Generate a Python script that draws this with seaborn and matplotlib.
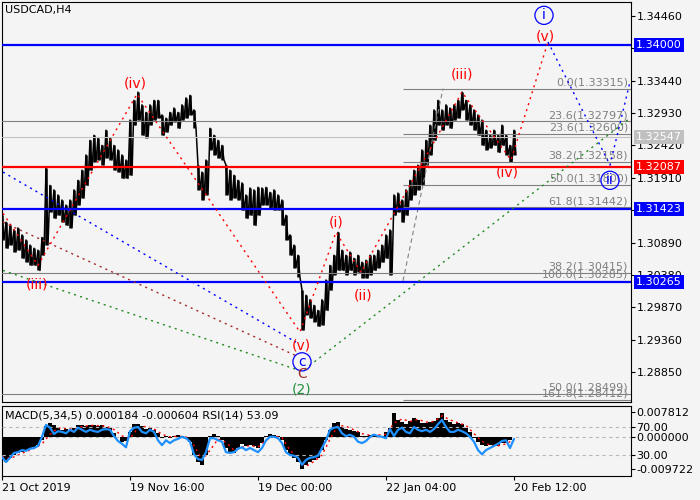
import numpy as np
import matplotlib
matplotlib.use('Agg')
import matplotlib.pyplot as plt
import seaborn as sns
from matplotlib.transforms import blended_transform_factory

# ---------------- data ----------------
symbol_title = "USDCAD,H4"
indicator_title = "MACD(5,34,5) 0.000184 -0.000604 RSI(14) 53.09"

bar_step = 4  # one sample every 4 H4 bars
price_high = [
    1.3132, 1.3121, 1.3116, 1.3109, 1.3112, 1.3101, 1.3093, 1.3085, 1.3080, 1.3077,
    1.3097, 1.3206, 1.3179, 1.3172, 1.3164, 1.3156, 1.3148, 1.3156, 1.3172, 1.3187,
    1.3203, 1.3227, 1.3250, 1.3258, 1.3254, 1.3242, 1.3266, 1.3254, 1.3242, 1.3235,
    1.3227, 1.3219, 1.3282, 1.3313, 1.3326, 1.3306, 1.3294, 1.3306, 1.3313, 1.3313,
    1.3290, 1.3285, 1.3294, 1.3301, 1.3294, 1.3306, 1.3317, 1.3321, 1.3298, 1.3211,
    1.3200, 1.3219, 1.3269, 1.3258, 1.3250, 1.3242, 1.3211, 1.3203, 1.3195, 1.3187,
    1.3183, 1.3164, 1.3175, 1.3172, 1.3176, 1.3175, 1.3176, 1.3168, 1.3172, 1.3164,
    1.3156, 1.3132, 1.3101, 1.3085, 1.3069, 1.3014, 1.3006, 1.2999, 1.2990, 1.2982,
    1.2999, 1.3030, 1.3053, 1.3069, 1.3105, 1.3077, 1.3069, 1.3074, 1.3064, 1.3069,
    1.3058, 1.3061, 1.3069, 1.3069, 1.3077, 1.3085, 1.3101, 1.3109, 1.3164, 1.3167,
    1.3156, 1.3172, 1.3187, 1.3203, 1.3211, 1.3235, 1.3250, 1.3274, 1.3298, 1.3313,
    1.3298, 1.3306, 1.3301, 1.3306, 1.3313, 1.3326, 1.3313, 1.3306, 1.3298, 1.3290,
    1.3282, 1.3266, 1.3258, 1.3266, 1.3258, 1.3274, 1.3258, 1.3242, 1.3266]
price_low = [
    1.3093, 1.3080, 1.3085, 1.3074, 1.3077, 1.3064, 1.3058, 1.3053, 1.3053, 1.3045,
    1.3069, 1.3085, 1.3137, 1.3127, 1.3132, 1.3121, 1.3116, 1.3112, 1.3132, 1.3148,
    1.3159, 1.3179, 1.3203, 1.3216, 1.3219, 1.3211, 1.3222, 1.3219, 1.3203, 1.3200,
    1.3190, 1.3190, 1.3195, 1.3274, 1.3282, 1.3258, 1.3254, 1.3274, 1.3282, 1.3285,
    1.3258, 1.3263, 1.3274, 1.3279, 1.3269, 1.3282, 1.3285, 1.3290, 1.3269, 1.3172,
    1.3156, 1.3164, 1.3235, 1.3227, 1.3222, 1.3219, 1.3164, 1.3156, 1.3159, 1.3156,
    1.3140, 1.3127, 1.3132, 1.3116, 1.3132, 1.3148, 1.3148, 1.3143, 1.3140, 1.3140,
    1.3116, 1.3093, 1.3069, 1.3049, 1.3034, 1.2951, 1.2975, 1.2970, 1.2964, 1.2957,
    1.2959, 1.2982, 1.3014, 1.3038, 1.3045, 1.3045, 1.3038, 1.3045, 1.3038, 1.3042,
    1.3033, 1.3033, 1.3038, 1.3045, 1.3049, 1.3058, 1.3064, 1.3038, 1.3132, 1.3137,
    1.3121, 1.3132, 1.3156, 1.3164, 1.3172, 1.3179, 1.3211, 1.3227, 1.3250, 1.3274,
    1.3266, 1.3274, 1.3269, 1.3282, 1.3285, 1.3298, 1.3282, 1.3274, 1.3266, 1.3258,
    1.3242, 1.3235, 1.3238, 1.3242, 1.3231, 1.3242, 1.3227, 1.3216, 1.3227]
macd_hist = [
    -0.0064, -0.0077, -0.0064, -0.0055, -0.0048, -0.0045, -0.0039, -0.0036, -0.0030, -0.0023,
    -0.0008, 0.0036, 0.0045, 0.0039, 0.0030, 0.0023, 0.0027, 0.0020, 0.0030, 0.0039,
    0.0039, 0.0036, 0.0039, 0.0039, 0.0036, 0.0039, 0.0033, 0.0030, 0.0014, 0.0002,
    -0.0014, -0.0011, 0.0017, 0.0042, 0.0042, 0.0036, 0.0027, 0.0030, 0.0023, 0.0014,
    -0.0002, 0.0005, -0.0002, 0.0005, 0.0008, 0.0005, -0.0002, -0.0014, -0.0055, -0.0077,
    -0.0086, -0.0055, 0.0005, 0.0011, 0.0005, -0.0008, -0.0033, -0.0045, -0.0048, -0.0033,
    -0.0020, -0.0027, -0.0023, -0.0027, -0.0033, -0.0017, 0.0005, 0.0011, 0.0008, 0.0005,
    -0.0008, -0.0039, -0.0055, -0.0064, -0.0077, -0.0097, -0.0086, -0.0077, -0.0070, -0.0064,
    -0.0039, -0.0008, 0.0023, 0.0045, 0.0048, 0.0033, 0.0027, 0.0023, 0.0020, 0.0017,
    0.0005, 0.0005, 0.0008, 0.0011, 0.0005, 0.0005, 0.0017, 0.0030, 0.0077, 0.0055,
    0.0048, 0.0042, 0.0052, 0.0061, 0.0055, 0.0045, 0.0045, 0.0048, 0.0052, 0.0061,
    0.0078, 0.0055, 0.0048, 0.0042, 0.0045, 0.0042, 0.0030, 0.0017, -0.0002, -0.0014,
    -0.0023, -0.0027, -0.0023, -0.0027, -0.0027, -0.0017, -0.0017, -0.0008, 0.0002]
signal_step = 8
macd_signal = [
    -0.0060, -0.0066, -0.0055, -0.0044, -0.0034, -0.0020, 0.0010, 0.0030, 0.0028, 0.0026,
    0.0034, 0.0038, 0.0037, 0.0036, 0.0025, 0.0005, -0.0003, 0.0030, 0.0035, 0.0027,
    0.0010, 0.0002, 0.0004, 0.0002, -0.0025, -0.0070, -0.0040, -0.0005, -0.0015, -0.0040,
    -0.0030, -0.0025, -0.0030, -0.0008, 0.0005, 0.0000, -0.0040, -0.0065, -0.0090, -0.0075,
    -0.0055, -0.0005, 0.0038, 0.0035, 0.0024, 0.0012, 0.0007, 0.0008, 0.0010, 0.0045,
    0.0058, 0.0050, 0.0057, 0.0048, 0.0050, 0.0068, 0.0055, 0.0046, 0.0038, 0.0012,
    -0.0012, -0.0024, -0.0026, -0.0020, -0.0006]
rsi_values = [
    27, 20, 26, 33, 34, 37, 36, 39, 40, 43,
    56, 73, 69, 60, 64, 63, 61, 66, 63, 69,
    66, 63, 66, 64, 63, 66, 67, 66, 57, 50,
    46, 41, 64, 69, 70, 63, 61, 66, 63, 51,
    44, 51, 47, 51, 53, 56, 54, 49, 31, 24,
    23, 34, 54, 54, 51, 49, 34, 33, 34, 39,
    41, 37, 40, 37, 34, 40, 51, 56, 56, 54,
    47, 34, 30, 29, 26, 16, 23, 26, 27, 29,
    40, 51, 66, 69, 70, 61, 57, 59, 56, 49,
    47, 50, 56, 59, 57, 56, 54, 67, 57, 66,
    69, 63, 61, 70, 66, 64, 66, 63, 67, 74,
    80, 70, 63, 63, 66, 64, 61, 56, 49, 37,
    31, 37, 40, 43, 46, 50, 51, 40, 53]

date_labels = ['21 Oct 2019', '19 Nov 16:00', '19 Dec 00:00', '22 Jan 04:00', '20 Feb 12:00']
date_bars = [0, 128, 256, 384, 512]
total_bars = 629

price_ticks = [1.34460, 1.33950, 1.33440, 1.32930, 1.32420, 1.31910,
               1.31400, 1.30890, 1.30380, 1.29870, 1.29360, 1.28850]
price_range = (1.28377, 1.34680)

blue_levels = [1.34000, 1.31423, 1.30265]
red_level = 1.32087
bid_price = 1.32547

fib_full_pcts = ['23.6', '38.2', '50.0']
fib_full_levels = [1.32797, 1.30415, 1.28499]
fib_part_pcts = ['0.0', '23.6', '38.2', '50.0', '61.8', '100.0', '161.8']
fib_part_levels = [1.33315, 1.32600, 1.32158, 1.31800, 1.31442, 1.30285, 1.28412]
fib_start_bar = 401
fib_trend_bars = [401, 441]
fib_trend_prices = [1.30285, 1.33315]

red_wave_bars = [1, 36, 135, 298, 334, 359, 460, 509, 546]
red_wave_prices = [1.3135, 1.3053, 1.3323, 1.2948, 1.3105, 1.3042, 1.3326, 1.3219, 1.3405]
blue_wave1_bars = [1, 294]
blue_wave1_prices = [1.3200, 1.2932]
blue_wave2_bars = [546, 608, 628]
blue_wave2_prices = [1.3405, 1.3211, 1.3342]
brown_wave_bars = [1, 295]
brown_wave_prices = [1.3121, 1.2910]
green_wave_bars = [1, 300, 628]
green_wave_prices = [1.3045, 1.2886, 1.3285]

wave_texts = ['(iii)', '(iv)', '(v)', '(i)', '(ii)', '(iii)', '(iv)', '(v)']
wave_text_bars = [35, 133, 299, 334, 361, 460, 505, 543]
wave_text_prices = [1.3023, 1.3339, 1.2927, 1.3120, 1.3006, 1.3353, 1.3200, 1.3413]
circle_texts = ['i', 'ii', 'c']
circle_bars = [542, 608, 300]
circle_prices = [1.3447, 1.3187, 1.2901]
major_texts = ['C', '(2)']
major_bars = [300, 300]
major_prices = [1.2882, 1.2858]
major_colors = ['#a52a2a', '#1f8f3a']

macd_ticks = [0.007812, 0.0, -0.009722]
macd_tick_labels = ['0.007812', '0.000000', '-0.009722']
macd_range = (-0.01203, 0.00984)
rsi_ticks = [70, 30]
rsi_tick_labels = ['70.00', '30.00']

# ---------------- style ----------------
sns.set_theme(style='white')
plt.rcParams['font.family'] = ['DejaVu Sans']
BG = '#f4f4f4'
FS = 8

W, H = 700, 500
fig = plt.figure(figsize=(7, 5), dpi=100, facecolor=BG)


def rect(x0, y0, x1, y1):
    return [x0 / W, 1 - y1 / H, (x1 - x0) / W, (y1 - y0) / H]


ax = fig.add_axes(rect(2, 2, 631, 402))
axm = fig.add_axes(rect(2, 406, 631, 476), sharex=ax)
axr = axm.twinx()

for a in (ax, axm):
    a.set_facecolor(BG)
    for s in a.spines.values():
        s.set_color('black')
        s.set_linewidth(0.8)
for s in axr.spines.values():
    s.set_visible(False)

# ---------------- main price panel ----------------
bars = np.arange(len(price_high)) * bar_step
ax.vlines(bars, price_low, price_high, color='black', lw=1.8, zorder=2)
zx = np.column_stack([bars, bars + 2]).ravel()
zy = np.column_stack([price_high, price_low]).ravel()
sns.lineplot(x=zx, y=zy, ax=ax, color='black', lw=1.1, sort=False, estimator=None, zorder=2)

# horizontal levels
for lvl in fib_full_levels:
    ax.axhline(lvl, color='#808080', lw=0.8, zorder=3)
ax.hlines(fib_part_levels, fib_start_bar, total_bars, color='#808080', lw=0.8, zorder=3)
ax.axhline(bid_price, color='#c0c0c0', lw=0.8, zorder=3)
for lvl in blue_levels:
    ax.axhline(lvl, color='#0000ff', lw=1.6, zorder=4)
ax.axhline(red_level, color='#ff0000', lw=1.6, zorder=4)

# fib labels
for pct, lvl in list(zip(fib_full_pcts, fib_full_levels)) + list(zip(fib_part_pcts, fib_part_levels)):
    ax.text(total_bars - 3, lvl + 0.0002, f'{pct}({lvl:.5f})', ha='right', va='bottom',
            color='#808080', fontsize=FS, zorder=5)

# fib trendline
sns.lineplot(x=fib_trend_bars, y=fib_trend_prices, ax=ax, color='#808080', lw=0.8,
             linestyle=(0, (4, 3)), sort=False, estimator=None, zorder=3)

# wave lines
dot = (0, (1.5, 3))
sns.lineplot(x=red_wave_bars, y=red_wave_prices, ax=ax, color='#ff0000', lw=1.0,
             linestyle=dot, sort=False, estimator=None, zorder=5)
sns.lineplot(x=blue_wave1_bars, y=blue_wave1_prices, ax=ax, color='#0000ff', lw=1.0,
             linestyle=dot, sort=False, estimator=None, zorder=5)
sns.lineplot(x=blue_wave2_bars, y=blue_wave2_prices, ax=ax, color='#0000ff', lw=1.0,
             linestyle=dot, sort=False, estimator=None, zorder=5)
sns.lineplot(x=brown_wave_bars, y=brown_wave_prices, ax=ax, color='#a52a2a', lw=1.0,
             linestyle=dot, sort=False, estimator=None, zorder=5)
sns.lineplot(x=green_wave_bars, y=green_wave_prices, ax=ax, color='#228b22', lw=1.0,
             linestyle=dot, sort=False, estimator=None, zorder=5)

# wave labels
for t, b, p in zip(wave_texts, wave_text_bars, wave_text_prices):
    ax.text(b, p, t, color='#ff0000', fontsize=10, ha='center', va='center', zorder=6)
for t, b, p in zip(circle_texts, circle_bars, circle_prices):
    ax.text(b, p, t, color='#0000ff', fontsize=10, ha='center', va='center', zorder=6,
            bbox=dict(boxstyle='circle,pad=0.15', fc='none', ec='#0000ff', lw=0.9))
for t, b, p, c in zip(major_texts, major_bars, major_prices, major_colors):
    ax.text(b, p, t, color=c, fontsize=10, ha='center', va='center', zorder=6)

ax.set_xlim(0, total_bars)
ax.set_ylim(*price_range)
ax.yaxis.tick_right()
ax.set_yticks(price_ticks)
ax.set_yticklabels([f'{t:.5f}' for t in price_ticks])
ax.tick_params(axis='y', right=True, direction='out', length=3, width=0.8, pad=1,
               labelsize=FS, colors='black')
ax.tick_params(axis='x', bottom=False, labelbottom=False)
ax.set_xlabel('')
ax.set_ylabel('')

# price tags on the axis
tr = blended_transform_factory(ax.transAxes, ax.transData)
tags = [(1.34000, '#0000ff', 'white'), (bid_price, '#c0c0c0', 'white'),
        (red_level, '#ff0000', 'white'), (1.31423, '#0000ff', 'white'),
        (1.30265, '#0000ff', 'white')]
for val, fc, tc in tags:
    ax.text(1.0 + 5 / 629, val, f'{val:.5f}', transform=tr, ha='left', va='center',
            color=tc, fontsize=FS, clip_on=False, zorder=10,
            bbox=dict(boxstyle='square,pad=0.18', fc=fc, ec='none'))

fig.text(5 / W, 1 - 5 / H, symbol_title, ha='left', va='top', fontsize=FS, color='black')

# ---------------- MACD / RSI panel ----------------
axm.bar(bars, macd_hist, width=bar_step, color='black', linewidth=0, zorder=2)
sig_bars = np.arange(len(macd_signal)) * signal_step
sns.lineplot(x=sig_bars, y=macd_signal, ax=axm, color='#ff0000', lw=1.0,
             linestyle=(0, (1.5, 2.5)), sort=False, estimator=None, zorder=3)
axm.axhline(0, color='#b8b8b8', lw=0.8, linestyle=(0, (3, 3)), zorder=1)
axm.set_ylim(*macd_range)
axm.yaxis.tick_right()
axm.set_yticks(macd_ticks)
axm.set_yticklabels(macd_tick_labels)
axm.tick_params(axis='y', right=True, left=False, direction='out', length=3, width=0.8,
                pad=1, labelsize=FS, colors='black')
axm.set_xticks(date_bars)
axm.set_xticklabels(date_labels, ha='left')
axm.tick_params(axis='x', bottom=True, direction='out', length=3, width=0.8, pad=2,
                labelsize=FS, colors='black')
axm.set_xlim(0, total_bars)
axm.set_xlabel('')
axm.set_ylabel('')

axr.axhline(70, color='#b8b8b8', lw=0.8, linestyle=(0, (3, 3)), zorder=1)
axr.axhline(30, color='#b8b8b8', lw=0.8, linestyle=(0, (3, 3)), zorder=1)
sns.lineplot(x=bars, y=rsi_values, ax=axr, color='#1e90ff', lw=1.6, sort=False,
             estimator=None, zorder=4)
axr.set_ylim(0, 100)
axr.set_yticks(rsi_ticks)
axr.set_yticklabels(rsi_tick_labels)
axr.tick_params(axis='y', right=True, direction='out', length=3, width=0.8, pad=1,
                labelsize=FS, colors='black')
axr.set_xlabel('')
axr.set_ylabel('')

axm.text(3 / 629, (476 - 415) / 70, indicator_title, transform=axm.transAxes,
         ha='left', va='center', fontsize=FS, color='black', zorder=6)

fig.savefig('out.png', dpi=100, facecolor=BG)
